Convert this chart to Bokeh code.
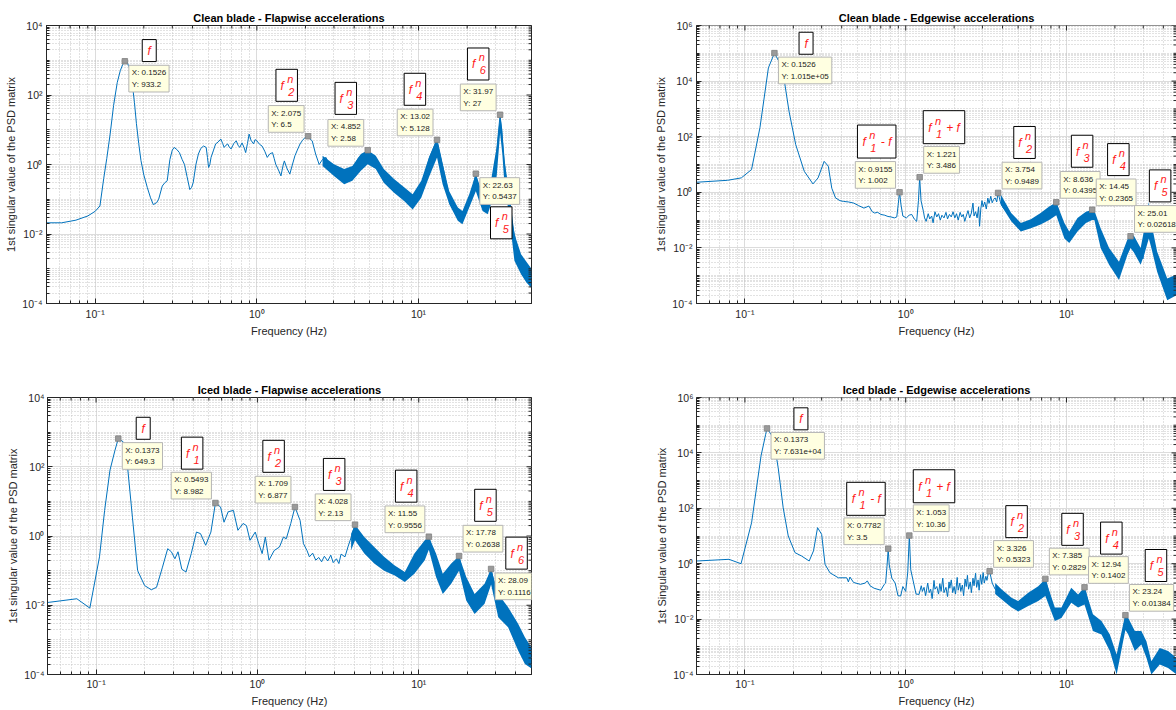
import math
from bokeh.plotting import figure
from bokeh.layouts import column, row
from bokeh.models import (FixedTicker, CustomJSTickFormatter, Label, Span,
                          Range1d, ColumnDataSource)
from bokeh.embed import file_html
from bokeh.resources import INLINE

# ---------------- data ----------------
# Clean blade - flapwise
fA = [0.05, 0.062, 0.076, 0.09, 0.1, 0.107, 0.113, 0.118, 0.124, 0.13,
      0.137, 0.143, 0.148, 0.1526, 0.158, 0.163, 0.169, 0.175, 0.18, 0.186,
      0.192, 0.2, 0.21, 0.22, 0.229, 0.24, 0.247, 0.26, 0.27, 0.279,
      0.29, 0.3, 0.308, 0.32, 0.332, 0.345, 0.357, 0.37, 0.385, 0.395,
      0.404, 0.42, 0.435, 0.45, 0.468, 0.486, 0.495, 0.503, 0.512, 0.521,
      0.54, 0.556, 0.575, 0.599, 0.615, 0.628, 0.645, 0.66, 0.675, 0.693,
      0.72, 0.746, 0.765, 0.784, 0.81, 0.835, 0.853, 0.875, 0.896, 0.92,
      0.955, 0.975, 1.0, 1.04, 1.077, 1.12, 1.16, 1.2, 1.25, 1.28,
      1.31, 1.36, 1.41, 1.45, 1.48, 1.53, 1.6, 1.65, 1.72, 1.78,
      1.85, 1.92, 1.99, 2.075, 2.13, 2.2, 2.31, 2.43, 2.55, 2.68,
      2.88, 3.18, 3.51, 3.87, 4.27, 4.852, 5.33, 5.74, 6.65, 7.71,
      9.16, 10.4, 11.7, 13.02, 14.3, 15.3, 17.8, 19.1, 20.6, 22.63,
      23.9, 26.3, 29.0, 31.97, 35.4, 38.0, 41.0, 45.2, 50.0]
vA = [0.021, 0.021, 0.025, 0.033, 0.045, 0.064, 0.4, 1.5, 8, 50,
      230, 500, 750, 933.2, 850, 600, 250, 60, 15, 4,
      1.3, 0.5, 0.22, 0.11, 0.07, 0.08, 0.1, 0.24, 0.3, 0.34,
      1.4, 2.6, 3.1, 2.7, 2.2, 1.4, 1.0, 0.45, 0.19, 0.22,
      0.30, 1.0, 2.0, 2.9, 3.4, 3.1, 1.6, 0.82, 1.0, 1.6,
      2.6, 3.9, 4.4, 5.4, 4.0, 3.1, 3.6, 3.9, 3.2, 2.8,
      4.0, 4.8, 3.6, 3.1, 4.2, 3.0, 2.2, 4.0, 7.5, 5.0,
      3.9, 5.2, 4.8, 3.8, 3.4, 2.4, 1.6, 2.0, 2.2, 1.5,
      1.0, 0.7, 0.47, 0.9, 1.27, 0.8, 0.53, 0.9, 1.78, 2.6,
      3.9, 5.0, 6.0, 6.5, 5.5, 4.8, 2.0, 1.0, 1.4, 1.6,
      0.66, 0.82, 0.42, 0.66, 1.6, 2.58, 1.6, 0.82, 0.38, 0.17,
      0.089, 0.22, 1.6, 5.128, 0.7, 0.15, 0.046, 0.03, 0.072, 0.5437,
      0.12, 0.072, 0.22, 27, 0.15, 0.02, 0.0032, 0.0011, 0.00055]
bfA = [2.55, 3.0, 3.47, 3.9, 4.4, 4.852, 5.44, 6.1, 7.06, 8.15,
       9.2, 10.4, 11.6, 12.8, 13.02, 14.1, 15.5, 17.5, 18.7, 20.6,
       22.63, 24.9, 26.8, 29.4, 30.5, 31.97, 33.0, 34.0, 36.5, 39.2,
       43.1, 46.5, 50.0]
loA = [0.9, 0.47, 0.27, 0.34, 0.66, 1.02, 0.74, 0.30, 0.155, 0.089,
       0.051, 0.11, 0.43, 1.3, 1.6, 0.27, 0.072, 0.024, 0.019, 0.058,
       0.17, 0.046, 0.037, 0.14, 0.5, 8, 2, 0.28, 0.03, 0.0017,
       0.0007, 0.0004, 0.00028]
hiA = [1.8, 1.02, 0.74, 0.91, 2.0, 2.58, 1.78, 0.74, 0.38, 0.22,
       0.14, 0.34, 1.6, 4.8, 5.128, 1.02, 0.17, 0.058, 0.046, 0.14,
       0.5437, 0.14, 0.089, 1.26, 3.2, 27, 10, 1.26, 0.16, 0.01,
       0.0026, 0.0016, 0.001]
tipA_x = [0.1526, 2.075, 4.852, 13.02, 31.97, 22.63]
tipA_y = [933.2, 6.5, 2.58, 5.128, 27, 0.5437]

# Clean blade - edgewise
fB = [0.05, 0.078, 0.095, 0.11, 0.124, 0.14, 0.1526, 0.171, 0.188, 0.207,
      0.234, 0.265, 0.285, 0.311, 0.33, 0.347, 0.366, 0.39, 0.41, 0.44,
      0.475, 0.51, 0.55, 0.59, 0.62, 0.64, 0.67, 0.70, 0.74, 0.775,
      0.81, 0.85, 0.88, 0.9, 0.9155, 0.935, 0.96, 1.01, 1.05, 1.09,
      1.13, 1.17, 1.2, 1.221, 1.245,
      1.29, 1.31, 1.34, 1.38, 1.41, 1.45, 1.48, 1.52, 1.56, 1.6,
      1.64, 1.68, 1.73, 1.78, 1.82, 1.87, 1.92, 1.97, 2.02, 2.07,
      2.12, 2.18, 2.23, 2.28, 2.33, 2.38, 2.44, 2.5, 2.56, 2.62,
      2.66, 2.72, 2.78, 2.84, 2.88, 2.93, 2.98, 3.03, 3.1, 3.17,
      3.24, 3.3, 3.38, 3.45, 3.52, 3.6, 3.68, 3.754, 3.9, 4.05,
      4.5, 5.18, 6.0, 6.94, 7.8, 8.636, 9.5, 10.5, 11.6, 13.1,
      14.45, 15.8, 17.5, 19.3, 21.3, 23.5, 25.01, 27.8, 29.9, 32.5,
      34.6, 38.2, 42.1, 48.3]
vB = [2.3, 2.7, 3.3, 6.6, 210, 3.0e4, 1.015e5, 3.0e4, 830, 52,
      5.7, 2.0, 3.3, 13, 8.7, 1.4, 0.63, 0.5, 0.47, 0.45,
      0.41, 0.33, 0.27, 0.32, 0.2, 0.18, 0.19, 0.16, 0.15, 0.135,
      0.13, 0.12, 0.13, 0.4, 1.002, 0.35, 0.14, 0.12, 0.15, 0.16,
      0.11, 0.09, 0.5, 3.486, 0.5,
      0.2, 0.12, 0.09, 0.17, 0.11, 0.14, 0.08, 0.2, 0.13, 0.17,
      0.1, 0.15, 0.12, 0.19, 0.11, 0.16, 0.13, 0.2, 0.12, 0.17,
      0.1, 0.19, 0.13, 0.16, 0.09, 0.14, 0.22, 0.12, 0.18, 0.41,
      0.14, 0.2, 0.12, 0.3, 0.06, 0.25, 0.5, 0.3, 0.45, 0.25,
      0.62, 0.4, 0.72, 0.42, 0.55, 0.63, 0.45, 0.9489, 0.4, 0.27,
      0.13, 0.06, 0.075, 0.11, 0.17, 0.4395, 0.06, 0.025, 0.07, 0.15,
      0.2365, 0.04, 0.012, 0.004, 0.0015, 0.011, 0.02618, 0.007, 0.004, 0.3,
      0.02, 0.0015, 0.0003, 0.0005]
bfB = [3.9, 4.53, 5.2, 6.0, 6.9, 7.8, 8.636, 9.7, 10.4, 11.7,
       13.2, 14.45, 14.9, 16.3, 18.4, 21.2, 23.9, 25.01, 26.2, 28.9,
       30.5, 32.5, 34.0, 36.6, 42.3, 48.3]
loB = [0.36, 0.09, 0.039, 0.051, 0.069, 0.10, 0.15, 0.022, 0.015, 0.039,
       0.079, 0.10, 0.10, 0.01, 0.0025, 0.0007, 0.0056, 0.01, 0.007, 0.0025,
       0.006, 0.022, 0.008, 0.0014, 0.00013, 0.0002]
hiB = [0.83, 0.18, 0.078, 0.107, 0.18, 0.31, 0.4395, 0.078, 0.039, 0.12,
       0.2, 0.2365, 0.22, 0.051, 0.01, 0.0032, 0.02, 0.02618, 0.028, 0.01,
       0.05, 0.45, 0.06, 0.0074, 0.0008, 0.0011]
tipB_x = [0.1526, 0.9155, 1.221, 3.754, 8.636, 14.45, 25.01]
tipB_y = [101500, 1.002, 3.486, 0.9489, 0.4395, 0.2365, 0.02618]

# Iced blade - flapwise
fC = [0.05, 0.076, 0.0915, 0.105, 0.113, 0.122, 0.131, 0.1373, 0.147, 0.156,
      0.168, 0.181, 0.2, 0.22, 0.237, 0.258, 0.278, 0.293, 0.308, 0.322,
      0.34, 0.361, 0.389, 0.419, 0.444, 0.478, 0.515, 0.5493, 0.591, 0.621,
      0.659, 0.71, 0.757, 0.815, 0.855, 0.9, 0.97, 1.02, 1.07, 1.12,
      1.18, 1.27, 1.37, 1.45, 1.51, 1.61, 1.709, 1.84, 1.93, 2.03,
      2.1, 2.2, 2.3, 2.4, 2.5, 2.6, 2.73, 2.85, 2.95, 3.09,
      3.2, 3.3, 3.49, 3.65, 3.85, 4.028, 4.48, 5.19, 6.01, 7.32,
      8.28, 9.37, 10.9, 11.55, 12.6, 13.9, 15.3, 16.9, 17.78, 19.7,
      21.7, 25.1, 28.09, 31.4, 35.6, 41.2, 45.5, 50.0]
vC = [0.012, 0.0154, 0.0083, 0.25, 5.5, 80, 300, 649.3, 530, 124,
      3.5, 0.10, 0.037, 0.028, 0.033, 0.126, 0.43, 0.35, 0.22, 0.35,
      0.11, 0.091, 0.31, 1.3, 1.17, 0.54, 1.3, 8.982, 6.9, 2.5,
      5.0, 5.5, 1.46, 2.3, 2.0, 0.75, 1.3, 0.6, 0.31, 0.93,
      0.2, 0.38, 0.48, 0.93, 0.83, 2.3, 6.877, 2.8, 0.6, 0.38,
      0.25, 0.32, 0.2, 0.24, 0.18, 0.26, 0.19, 0.28, 0.17, 0.22,
      0.16, 0.3, 0.25, 0.5, 1.05, 2.13, 0.7, 0.3, 0.16, 0.1,
      0.065, 0.15, 0.38, 0.9556, 0.2, 0.04, 0.07, 0.16, 0.2638, 0.03,
      0.011, 0.021, 0.1116, 0.01, 0.0045, 0.0012, 0.0005, 0.0003]
bfC = [3.81, 4.028, 4.6, 5.3, 6.1, 7.1, 8.2, 9.4, 10.9, 11.55,
       12.8, 14.1, 15.9, 17.78, 19.7, 22.2, 25.6, 28.09, 31.1, 35.8,
       41.3, 45.5, 50.0]
loC = [0.39, 0.75, 0.31, 0.16, 0.10, 0.072, 0.047, 0.081, 0.2, 0.4,
       0.065, 0.021, 0.042, 0.10, 0.0138, 0.0056, 0.011, 0.04, 0.0045, 0.0023,
       0.00049, 0.0002, 0.00015]
hiC = [1.17, 2.13, 0.93, 0.48, 0.25, 0.14, 0.091, 0.31, 0.75, 0.9556,
       0.31, 0.081, 0.16, 0.2638, 0.065, 0.021, 0.042, 0.1116, 0.021, 0.0087,
       0.0029, 0.0012, 0.0006]
tipC_x = [0.1373, 0.5493, 1.709, 4.028, 11.55, 17.78, 28.09]
tipC_y = [649.3, 8.982, 6.877, 2.13, 0.9556, 0.2638, 0.1116]

# Iced blade - edgewise
fD = [0.05, 0.0796, 0.0946, 0.11, 0.126, 0.1346, 0.1373, 0.15, 0.161, 0.173,
      0.186, 0.205, 0.225, 0.251, 0.267, 0.283, 0.30, 0.315, 0.338, 0.381,
      0.43, 0.44, 0.45, 0.474, 0.523, 0.56, 0.577, 0.6, 0.636, 0.70,
      0.736, 0.75, 0.765, 0.7782, 0.79, 0.82, 0.86, 0.895, 0.93, 0.96,
      1.0, 1.03, 1.053, 1.075, 1.12, 1.16, 1.21,
      1.25, 1.27, 1.3, 1.33, 1.37, 1.4, 1.43, 1.46, 1.5, 1.52,
      1.56, 1.6, 1.63, 1.66, 1.7, 1.73, 1.78, 1.82, 1.86, 1.88,
      1.92, 1.96, 2.0, 2.04, 2.09, 2.12, 2.17, 2.2, 2.25, 2.29,
      2.34, 2.38, 2.42, 2.46, 2.52, 2.56, 2.62, 2.66, 2.72, 2.76,
      2.82, 2.86, 2.92, 2.97, 3.03, 3.08, 3.15, 3.2, 3.26, 3.326,
      3.45, 3.6,
      3.94, 4.55, 5.0, 5.78, 6.67, 7.385, 8.46, 9.3, 10.7, 11.8,
      12.94, 14.6, 16.5, 18.6, 20.5, 22.5, 23.24, 26.6, 29.2, 31.4,
      33.7, 38.0, 42.8, 48.3]
vD = [1.25, 1.44, 1.0, 30, 7800, 4.7e4, 7.631e4, 3.6e4, 2950, 105,
      10, 2.5, 1.9, 1.25, 2.9, 20, 11.5, 0.95, 0.47, 0.31,
      0.31, 0.22, 0.33, 0.21, 0.18, 0.2, 0.24, 0.16, 0.13, 0.11,
      0.18, 0.2, 0.8, 3.5, 0.9, 0.3, 0.2, 0.07, 0.068, 0.15,
      0.10, 0.5, 10.36, 0.6, 0.2, 0.08, 0.078,
      0.16, 0.1, 0.14, 0.07, 0.2, 0.09, 0.12, 0.055, 0.25, 0.12,
      0.15, 0.08, 0.19, 0.1, 0.3, 0.09, 0.14, 0.065, 0.22, 0.13,
      0.26, 0.09, 0.15, 0.08, 0.32, 0.11, 0.2, 0.1, 0.17, 0.07,
      0.28, 0.15, 0.38, 0.12, 0.22, 0.09, 0.3, 0.16, 0.45, 0.14,
      0.26, 0.11, 0.4, 0.18, 0.48, 0.2, 0.35, 0.25, 0.45, 0.5323,
      0.2, 0.12,
      0.08, 0.04, 0.03, 0.05, 0.09, 0.2829, 0.015, 0.016, 0.08, 0.045,
      0.1402, 0.008, 0.005, 0.0015, 0.0002, 0.0035, 0.01384, 0.0015, 0.002, 0.0008,
      0.00017, 0.00045, 0.00035, 0.0002]
bfD = [3.6, 3.94, 4.55, 5.0, 5.78, 6.67, 7.385, 8.46, 9.3, 10.7,
       11.8, 12.94, 14.6, 16.5, 18.6, 20.5, 22.5, 23.24, 24.2, 26.6,
       29.2, 31.4, 33.7, 38.0, 42.8, 48.3]
loD = [0.08, 0.052, 0.026, 0.019, 0.03, 0.045, 0.068, 0.0085, 0.011, 0.039,
       0.026, 0.034, 0.0037, 0.0028, 0.0007, 0.0001, 0.0016, 0.004, 0.0028, 0.0007,
       0.0012, 0.0004, 0.0001, 0.00023, 0.00017, 0.0001]
hiD = [0.2, 0.12, 0.059, 0.045, 0.089, 0.155, 0.2829, 0.026, 0.026, 0.135,
       0.078, 0.1402, 0.015, 0.0085, 0.0028, 0.00053, 0.0065, 0.01384, 0.011, 0.0037,
       0.0037, 0.0016, 0.0003, 0.0009, 0.0007, 0.0004]
tipD_x = [0.1373, 0.7782, 1.053, 3.326, 7.385, 12.94, 23.24]
tipD_y = [76310, 3.5, 10.36, 0.5323, 0.2829, 0.1402, 0.01384]

# ---------------- annotation layout ----------------
# data-tip placement: lr = box below-right, ul = above-left, ur = above-right
sideA = ["lr", "ul", "ul", "ul", "ul", "lr"]
sideB = ["lr", "ul", "ur", "ur", "ur", "ur", "ur"]
sideC = ["lr", "ul", "ul", "ul", "ul", "ur", "lr"]
sideD = ["lr", "ul", "ur", "ur", "ur", "ur", "ur"]
# mode label boxes: (x, y, kind, subscript)
labA = [(0.216, 1900, "f", ""), (1.53, 190, "fn", "2"), (3.55, 80, "fn", "3"),
        (9.5, 146, "fn", "4"), (23.4, 780, "fn", "6"), (32.5, 0.021, "fn", "5")]
labB = [(0.24, 2.3e5, "f", ""), (0.66, 67, "minus", "1"), (1.73, 220, "plus", "1"),
        (5.48, 62, "fn", "2"), (12.5, 30, "fn", "3"), (21.0, 15, "fn", "4"),
        (38.2, 1.7, "fn", "5")]
labC = [(0.196, 1290, "f", ""), (0.394, 247, "fn", "1"), (1.26, 200, "fn", "2"),
        (2.99, 60, "fn", "3"), (8.36, 27.5, "fn", "4"), (25.9, 7.7, "fn", "5"),
        (40.4, 0.32, "fn", "6")]
labD = [(0.223, 1.7e5, "f", ""), (0.566, 220, "minus", "1"), (1.50, 625, "plus", "1"),
        (4.89, 33, "fn", "2"), (10.9, 17.4, "fn", "3"), (19.0, 8.4, "fn", "4"),
        (36.0, 0.86, "fn", "5")]

FONT = "Liberation Sans"
LINE_C = "#0072BD"
AX_C = "#262626"
RED = "#ff1a1a"

BOX_SIZE = {"f": (14, 22), "fn": (21.5, 32), "minus": (38.5, 33), "plus": (41.5, 33)}


def box_texts(kind, sub):
    # (text, dx, dy(screen, down +), size)
    if kind == "f":
        return [("f", 0, 0.5, 12)]
    if kind == "fn":
        return [("f", -4.5, 0.5, 12), ("n", 3.5, -6.5, 11), (sub, 4.5, 6.5, 11)]
    if kind == "minus":
        return [("f", -12.5, 0.5, 12), ("n", -4.5, -6.5, 11), ("1", -3.5, 6.5, 11),
                ("- f", 9.5, 0.5, 12)]
    return [("f", -14, 0.5, 12), ("n", -6, -6.5, 11), ("1", -5, 6.5, 11),
            ("+ f", 9, 0.5, 12)]


fmt_code = r"""
const s = {"-":"\u207b","0":"\u2070","1":"\u00b9","2":"\u00b2","3":"\u00b3","4":"\u2074",
           "5":"\u2075","6":"\u2076","7":"\u2077","8":"\u2078","9":"\u2079"};
const e = Math.round(Math.log10(tick));
return "10" + String(e).split("").map(c => s[c]).join("");
"""

XMAJ = [0.1, 1, 10]
XMIN = [k * 10.0 ** e for e in (-2, -1, 0, 1) for k in range(2, 10)
        if 0.05 <= k * 10.0 ** e <= 50]


def yticks(elo, ehi):
    maj = [10.0 ** e for e in range(elo, ehi + 1, 2)]
    mino = [k * 10.0 ** e for e in range(elo, ehi) for k in range(1, 10)
            if not (k == 1 and (e - elo) % 2 == 0)]
    return maj, mino


def style_axis(ax, standoff, lab_standoff):
    ax.axis_line_color = AX_C
    ax.axis_line_width = 1
    ax.major_tick_line_color = AX_C
    ax.minor_tick_line_color = AX_C
    ax.major_tick_in = 5
    ax.major_tick_out = 0
    ax.minor_tick_in = 3
    ax.minor_tick_out = 0
    ax.major_label_text_font = FONT
    ax.major_label_text_font_size = "10.5px"
    ax.major_label_text_color = AX_C
    ax.major_label_standoff = standoff
    ax.axis_label_text_font = FONT
    ax.axis_label_text_font_size = "11px"
    ax.axis_label_text_font_style = "normal"
    ax.axis_label_text_color = AX_C
    ax.axis_label_standoff = lab_standoff


def make_panel(title, ylabel, f, v, bf, lo, hi, tx, ty, sides, labs, ehi, xend,
               w, h, mbl, mbr, mbt, mbb, closed_box, std, lstd):
    ytop = 10.0 ** ehi
    p = figure(width=w, height=h, x_axis_type="log", y_axis_type="log",
               x_range=Range1d(0.05, xend), y_range=Range1d(1e-4, ytop),
               output_backend="svg", toolbar_location=None, title=title,
               min_border_left=mbl, min_border_right=mbr,
               min_border_top=mbt, min_border_bottom=mbb)
    p.background_fill_color = "white"
    p.border_fill_color = "white"
    p.title.text_font = FONT
    p.title.text_font_size = "11px"
    p.title.text_font_style = "bold"
    p.title.text_color = "black"
    p.title.align = "center"
    p.title.standoff = 3

    ymaj, ymin = yticks(-4, ehi)
    p.xaxis.ticker = FixedTicker(ticks=XMAJ, minor_ticks=XMIN)
    p.yaxis.ticker = FixedTicker(ticks=ymaj, minor_ticks=ymin)
    p.xaxis.formatter = CustomJSTickFormatter(code=fmt_code)
    p.yaxis.formatter = CustomJSTickFormatter(code=fmt_code)
    p.xaxis.axis_label = "Frequency (Hz)"
    p.yaxis.axis_label = ylabel
    for ax in p.xaxis + p.yaxis:
        style_axis(ax, std, lstd)

    for g in (p.xgrid, p.ygrid):
        g.grid_line_color = "#dcdcdc"
        g.grid_line_width = 1
        g.minor_grid_line_color = "#c4c4c4"
        g.minor_grid_line_dash = "1 2"
        g.minor_grid_line_width = 1

    # box: top edge (and right edge when it is inside the picture)
    if closed_box:
        p.outline_line_color = AX_C
        p.outline_line_width = 1
    else:
        p.outline_line_color = None
        p.add_layout(Span(location=ytop, dimension="width", line_color=AX_C,
                          line_width=1))

    assert len(f) == len(v) and len(bf) == len(lo) == len(hi)
    p.line(f, v, line_color=LINE_C, line_width=1)
    p.varea(x=bf, y1=lo, y2=hi, fill_color=LINE_C, fill_alpha=1)

    # inward tick marks on the top and right edges (half of each dash is clipped)
    p.scatter(XMAJ, [ytop] * len(XMAJ), marker="dash", angle=math.pi / 2, size=10,
              line_color=AX_C, line_width=1)
    p.scatter(XMIN, [ytop] * len(XMIN), marker="dash", angle=math.pi / 2, size=6,
              line_color=AX_C, line_width=1)
    p.scatter([xend] * len(ymaj), ymaj, marker="dash", size=10,
              line_color=AX_C, line_width=1)
    p.scatter([xend] * len(ymin), ymin, marker="dash", size=6,
              line_color=AX_C, line_width=1)

    # mode label boxes
    bsrc = ColumnDataSource(dict(
        x=[l[0] for l in labs], y=[l[1] for l in labs],
        w=[BOX_SIZE[l[2]][0] for l in labs], h=[BOX_SIZE[l[2]][1] for l in labs]))
    p.rect("x", "y", "w", "h", source=bsrc, width_units="screen", height_units="screen",
           fill_color="white", line_color="black", line_width=1)
    for (lx, ly, kind, sub) in labs:
        for (t, dx, dy, sz) in box_texts(kind, sub):
            p.add_layout(Label(x=lx, y=ly, x_offset=dx, y_offset=-dy, text=t,
                               text_color=RED, text_font=FONT, text_font_style="italic",
                               text_font_size=f"{sz}px", text_align="center",
                               text_baseline="middle"))

    # data tips
    p.scatter(tx, ty, marker="square", size=5.5, fill_color="#9a9a9a",
              line_color="#808080", line_width=0.8)
    for xx, yy, sd in zip(tx, ty, sides):
        if sd == "lr":
            anc, dx, dy = "top_left", 4, -4
        elif sd == "ul":
            anc, dx, dy = "bottom_right", -4, 4
        else:
            anc, dx, dy = "bottom_left", 4, 4
        p.add_layout(Label(x=xx, y=yy, x_offset=dx, y_offset=dy, anchor=anc,
                           text=f"X: {xx:.4g}\nY: {yy:.4g}", text_font=FONT,
                           text_font_size="8px", text_color="#1a1a1a",
                           text_align="left", text_line_height=1.3,
                           background_fill_color="#FFFFE1",
                           border_line_color="#b5b5b5", border_line_width=1,
                           padding=3))
    return p


pA = make_panel("Clean blade - Flapwise accelerations", "1st singular value of the PSD matrix",
                fA, vA, bfA, loA, hiA, tipA_x, tipA_y, sideA, labA, 4, 50,
                650, 380, 46, 119, 25, 77, True, 4, 2)
pB = make_panel("Clean blade - Edgewise accelerations", "1st singular value of the PSD matrix",
                fB, vB, bfB, loB, hiB, tipB_x, tipB_y, sideB, labB, 6, 48.3,
                526, 380, 46, 0, 25, 77, False, 4, 2)
pC = make_panel("Iced blade - Flapwise accelerations", "1st singular value of the PSD matrix",
                fC, vC, bfC, loC, hiC, tipC_x, tipC_y, sideC, labC, 4, 50,
                650, 329, 47, 119, 17, 35, True, 3, 2)
pD = make_panel("Iced blade - Edgewise accelerations", "1st Singular value of the PSD matrix",
                fD, vD, bfD, loD, hiD, tipD_x, tipD_y, sideD, labD, 6, 48.3,
                526, 329, 46, 0, 17, 35, False, 3, 2)

layout = column(row(pA, pB), row(pC, pD))
open("out.html", "w").write(file_html(layout, INLINE))
